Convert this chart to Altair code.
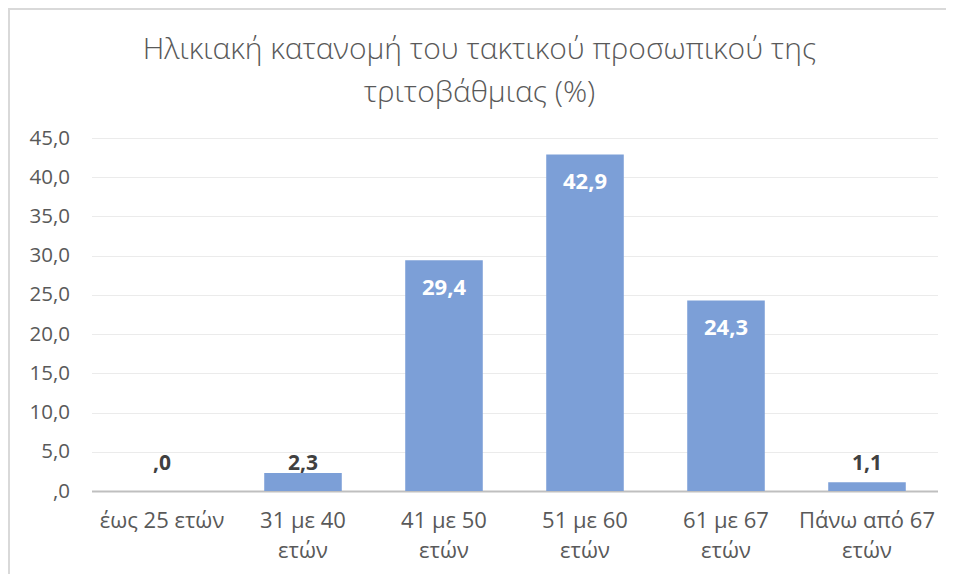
import altair as alt
import pandas as pd

categories = ["έως 25 ετών", "31 με 40|ετών", "41 με 50|ετών", "51 με 60|ετών", "61 με 67|ετών", "Πάνω από 67|ετών"]
values = [0.0, 2.3, 29.4, 42.9, 24.3, 1.1]
y_ticks = [0, 5, 10, 15, 20, 25, 30, 35, 40, 45]
title_lines = ["Ηλικιακή κατανομή του τακτικού προσωπικού της", "τριτοβάθμιας (%)"]

df = pd.DataFrame({"cat": categories, "v": values})

W, H = 846, 353
FONT = "Open Sans"
GREY = "#595959"

xaxis = alt.Axis(labelExpr="split(datum.label, '|')", labelAngle=0,
                 labelFont=FONT, labelFontSize=22, labelColor=GREY,
                 labelLineHeight=30, labelPadding=19, ticks=False,
                 labelOverlap=False,
                 domainColor="#BFBFBF", domainWidth=2, grid=False)
xscale = alt.Scale(paddingInner=0.45, paddingOuter=0.225)
yaxis = alt.Axis(values=y_ticks,
                 labelExpr="datum.value == 0 ? ',0' : replace(format(datum.value, '.1f'), '.', ',')",
                 labelFont=FONT, labelFontSize=20.5, labelColor=GREY,
                 labelPadding=22, ticks=False, domain=False,
                 labelOverlap=False,
                 gridColor="#EBEBEB", gridWidth=1)
yscale = alt.Scale(domain=[0, 45], nice=False)

def X():
    return alt.X("cat:N", sort=categories, title=None, scale=xscale, axis=xaxis)

def Y(field="v"):
    return alt.Y(f"{field}:Q", scale=yscale, title=None, axis=yaxis)

base = alt.Chart(df)

bars = base.mark_bar(color="#7C9FD7").encode(x=X(), y=Y())

lab_calc = "datum.v == 0 ? ',0' : replace(format(datum.v, '.1f'), '.', ',')"

inside = base.transform_filter("datum.v > 10").transform_calculate(lbl=lab_calc).mark_text(
    font=FONT, fontSize=22, fontWeight="bold", color="white", dy=28
).encode(x=X(), y=Y(), text="lbl:N")

outside = base.transform_filter("datum.v <= 10").transform_calculate(
    lbl=lab_calc, ly="max(datum.v + 1.2, 3.5)"
).mark_text(
    font=FONT, fontSize=21, fontWeight="bold", color="#404040", dy=0
).encode(x=X(), y=Y("ly"), text="lbl:N")

tdf = pd.DataFrame({"t": title_lines, "i": [0, 1]})
title1 = alt.Chart(tdf).transform_filter("datum.i == 0").mark_text(
    font=FONT, fontSize=30, fontWeight=300, color=GREY, baseline="middle", align="center"
).encode(text="t:N", x=alt.value(W / 2 - 35), y=alt.value(-88))
title2 = alt.Chart(tdf).transform_filter("datum.i == 1").mark_text(
    font=FONT, fontSize=30, fontWeight=300, color=GREY, baseline="middle", align="center"
).encode(text="t:N", x=alt.value(W / 2 - 35), y=alt.value(-45))

edge = pd.DataFrame({"a": [0]})
top_line = alt.Chart(edge).mark_rule(color="#D9D9D9", strokeWidth=2).encode(
    x=alt.value(-83), x2=alt.value(W + 9), y=alt.value(-129))
left_line = alt.Chart(edge).mark_rule(color="#D9D9D9", strokeWidth=2).encode(
    x=alt.value(-82.5), y=alt.value(-130), y2=alt.value(H + 83))

chart = alt.layer(top_line, left_line, bars, inside, outside, title1, title2).properties(
    width=W, height=H,
    autosize=alt.AutoSizeParams(type="none"),
    padding={"left": 83.5, "top": 130, "right": 8.5, "bottom": 83},
).configure_view(stroke=None)

chart.save("out.html", embed_options={"renderer": "svg", "actions": False})
